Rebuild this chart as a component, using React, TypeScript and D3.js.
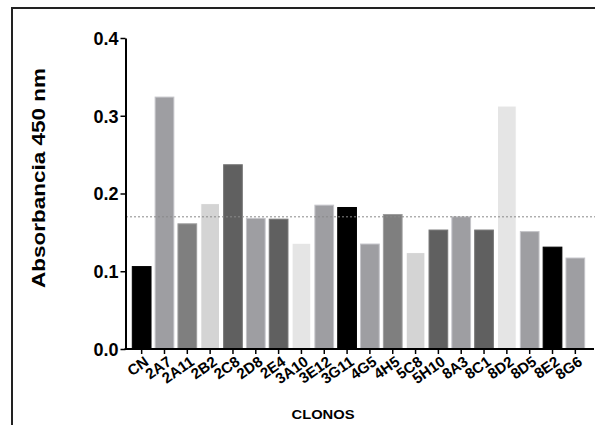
import React, { useRef, useEffect } from 'react';
import * as d3 from 'd3';

const width = 595;
const height = 425;

// clones and their absorbance values
const clones = ['CN', '2A7', '2A11', '2B2', '2C8', '2D8', '2E4', '3A10', '3E12', '3G11',
  '4G5', '4H5', '5C8', '5H10', '8A3', '8C1', '8D2', '8D5', '8E2', '8G6'];
const absorbance = [0.106, 0.324, 0.161, 0.187, 0.237, 0.168, 0.167, 0.136, 0.185, 0.182,
  0.135, 0.173, 0.124, 0.153, 0.170, 0.153, 0.3125, 0.151, 0.131, 0.117];
const barColors = ['#000000', '#9e9ea2', '#7f7f7f', '#d4d4d4', '#606060', '#9e9ea2', '#606060', '#e5e5e5', '#9e9ea2', '#000000',
  '#9e9ea2', '#7f7f7f', '#d4d4d4', '#606060', '#9e9ea2', '#606060', '#e5e5e5', '#9e9ea2', '#000000', '#9e9ea2'];
const yTicks = [0, 0.1, 0.2, 0.3, 0.4];
const cutoff = 0.17;

export default function App() {
  const svgRef = useRef<SVGSVGElement>(null);

  useEffect(() => {
    if (!svgRef.current) return;
    const svg = d3.select(svgRef.current);
    svg.selectAll('*').remove();

    const font = 'Arial, "Liberation Sans", Helvetica, sans-serif';

    // outer frame (only top and left edges visible)
    svg.append('path')
      .attr('d', 'M12,425 L12,8 L595,8')
      .attr('fill', 'none')
      .attr('stroke', '#222')
      .attr('stroke-width', 2);

    const x = d3.scaleBand<string>()
      .domain(clones)
      .range([125, 592])
      .paddingInner(0.18)
      .paddingOuter(0.32);

    const y = d3.scaleLinear().domain([0, 0.4]).range([349, 38]);

    // bars
    svg.selectAll('rect.bar')
      .data(clones)
      .enter()
      .append('rect')
      .attr('class', 'bar')
      .attr('x', d => x(d)!)
      .attr('width', x.bandwidth())
      .attr('y', (d, i) => y(absorbance[i]))
      .attr('height', (d, i) => y(0) - y(absorbance[i]))
      .attr('fill', (d, i) => barColors[i])
      .attr('stroke', (d, i) => d3.color(barColors[i])!.brighter(0.6).formatHex())
      .attr('stroke-width', 1);

    // cutoff line
    svg.append('line')
      .attr('x1', 126).attr('x2', 595)
      .attr('y1', y(cutoff)).attr('y2', y(cutoff))
      .attr('stroke', '#8a8a8a')
      .attr('stroke-width', 1)
      .attr('stroke-dasharray', '2,2');

    // y axis
    const yAxis = svg.append('g')
      .attr('transform', 'translate(125.5,0)')
      .call(d3.axisLeft(y).tickValues(yTicks).tickFormat(d3.format('.1f')).tickSize(5).tickSizeOuter(0));
    yAxis.select('.domain').attr('stroke', '#000').attr('stroke-width', 2);
    yAxis.selectAll('.tick line').attr('stroke', '#000').attr('stroke-width', 1.5);
    yAxis.selectAll('.tick text')
      .attr('font-family', font)
      .attr('font-weight', 'bold')
      .attr('font-size', 18)
      .attr('fill', '#000')
      .attr('x', -7)
      .attr('dy', '0.36em');

    // x axis
    const xAxis = svg.append('g')
      .attr('transform', 'translate(0,349)')
      .call(d3.axisBottom(x).tickSize(5).tickSizeOuter(0));
    xAxis.select('.domain').attr('stroke', '#000').attr('stroke-width', 2)
      .attr('d', 'M124.5,0H594');
    xAxis.selectAll('.tick line').attr('stroke', '#000').attr('stroke-width', 1.5);
    xAxis.selectAll('.tick text')
      .attr('font-family', font)
      .attr('font-weight', 'bold')
      .attr('font-size', 15)
      .attr('fill', '#000')
      .attr('text-anchor', 'end')
      .attr('x', 0)
      .attr('y', 0)
      .attr('dy', 0)
      .attr('transform', 'translate(8,15) rotate(-35)');

    // axis titles
    svg.append('text')
      .attr('transform', 'translate(45,178) rotate(-90)')
      .attr('text-anchor', 'middle')
      .attr('font-family', font)
      .attr('font-weight', 'bold')
      .attr('font-size', 18)
      .attr('textLength', 220)
      .attr('lengthAdjust', 'spacingAndGlyphs')
      .text('Absorbancia 450 nm');

    svg.append('text')
      .attr('x', 323)
      .attr('y', 419)
      .attr('text-anchor', 'middle')
      .attr('font-family', font)
      .attr('font-weight', 'bold')
      .attr('font-size', 12.5)
      .attr('textLength', 63)
      .attr('lengthAdjust', 'spacingAndGlyphs')
      .text('CLONOS');
  }, []);

  return (
    <svg
      ref={svgRef}
      width={width}
      height={height}
      style={{ position: 'absolute', left: 0, top: 0, background: '#fff' }}
    />
  );
}
